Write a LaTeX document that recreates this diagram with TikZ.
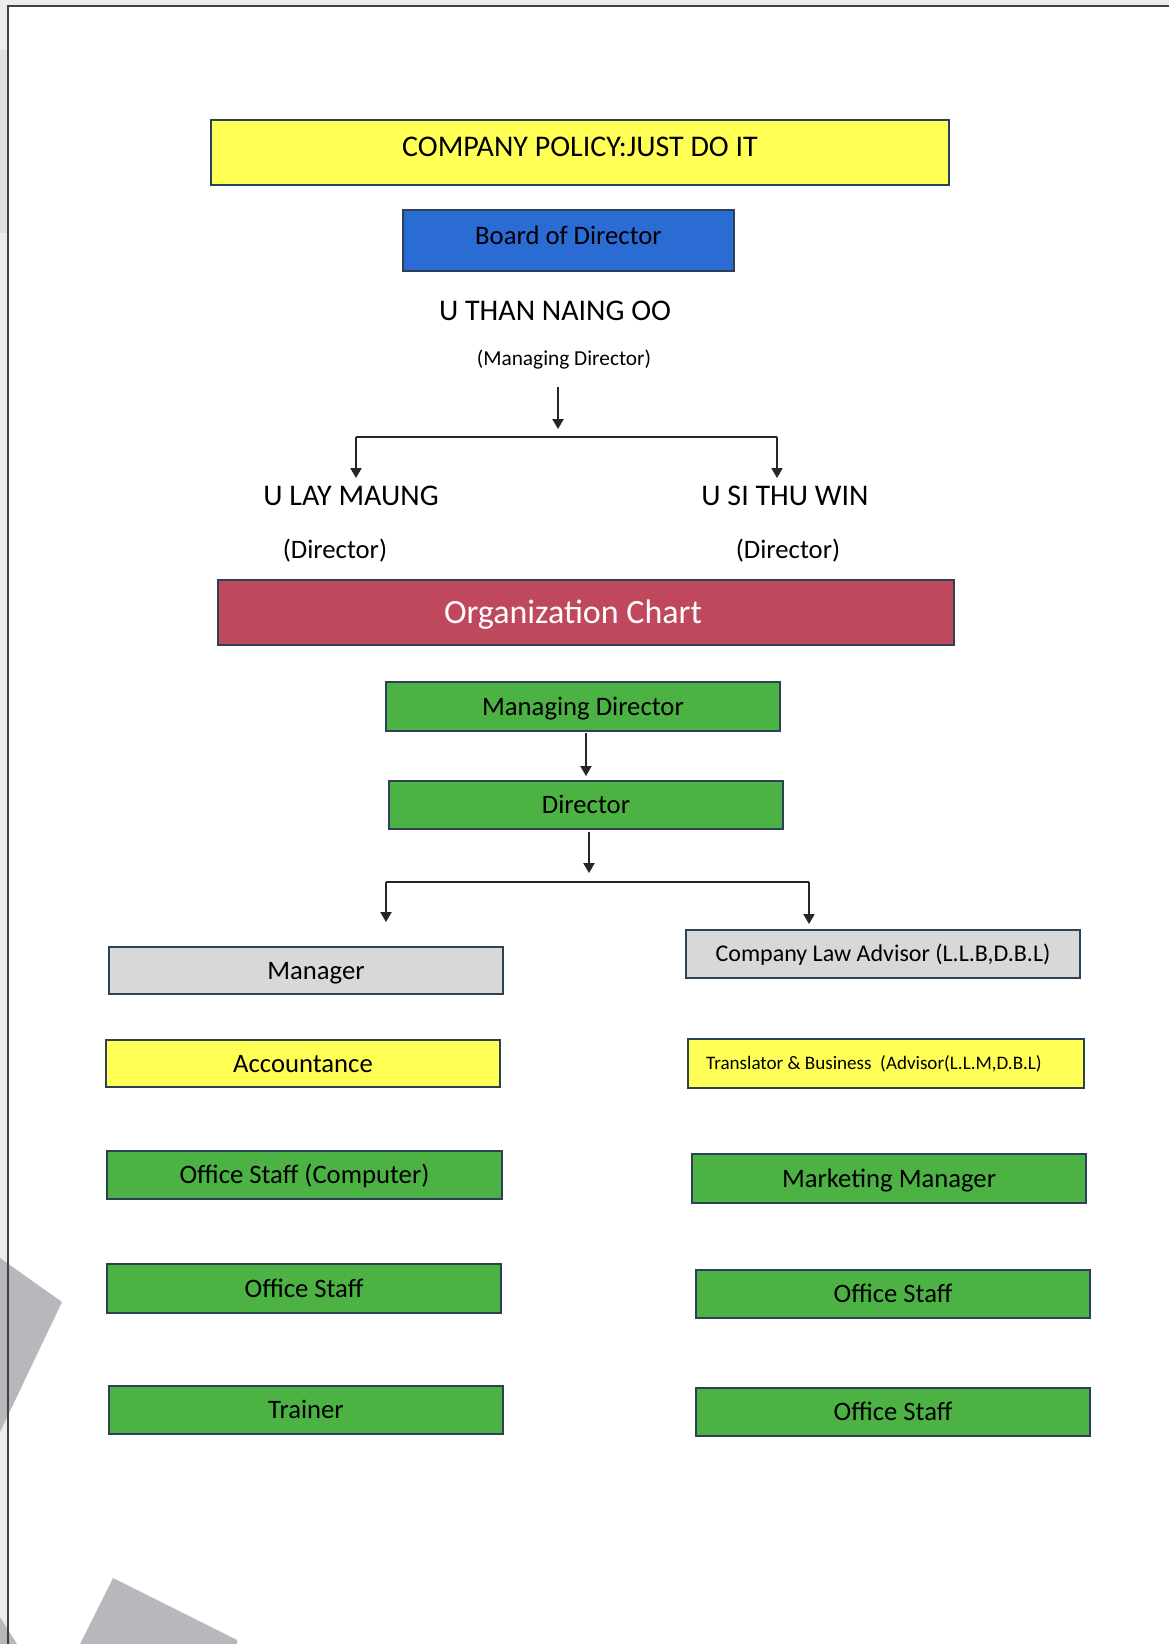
\documentclass[tikz,border=0pt]{standalone}
\usepackage{fontspec}
\setmainfont{Carlito}
\usetikzlibrary{arrows.meta,calc}
\definecolor{pyellow}{RGB}{255,255,85}
\definecolor{pblue}{RGB}{42,108,212}
\definecolor{pred}{RGB}{192,72,92}
\definecolor{pgreen}{RGB}{76,178,68}
\definecolor{pgray}{RGB}{216,216,216}
\definecolor{pline}{RGB}{45,65,85}
\definecolor{bgband}{RGB}{236,236,236}
\definecolor{bgshape}{RGB}{182,184,187}
\begin{document}
\begin{tikzpicture}[x=0.75pt,y=-0.75pt,
  wh/.style 2 args={minimum width=#1*0.75pt, minimum height=#2*0.75pt},
  cbox/.style={draw=pline, line width=1.1pt, rectangle, inner sep=0pt, font=\fontsize{20}{24}\selectfont, text height=16pt, text depth=3.1pt},
  greenbox/.style={cbox, fill=pgreen},
  graybox/.style={cbox, fill=pgray},
  yellowbox/.style={cbox, fill=pyellow},
  bigname/.style={inner sep=0pt, font=\fontsize{22.5}{27}\selectfont},
  rolelabel/.style={inner sep=0pt, font=\fontsize{20}{24}\selectfont},
  conn/.style={draw=black!85, line width=0.8pt},
  arr/.style={conn, -{Triangle[length=7.5pt,width=8.5pt]}}
]
\useasboundingbox (0,0) rectangle (1169,1644);
% background decoration
\fill[white] (0,0) rectangle (1169,1644);
\fill[bgband] (0,0) rectangle (1169,6);
\fill[bgband] (0,0) rectangle (8,1644);
\fill[black!12] (0,50) rectangle (8,233);
\fill[bgshape] (0,1258) -- (62,1302) -- (0,1432) -- cycle;
\fill[bgshape] (113,1578) -- (237,1640) -- (237,1644) -- (80,1644) -- cycle;
\fill[bgshape] (0,1617) -- (17,1644) -- (0,1644) -- cycle;
\draw[black!75, line width=1.4pt] (8,1644) -- (8,6) -- (1169,6);

% top section
\node[yellowbox, wh={738}{65}, font=\fontsize{22.5}{27}\selectfont, text height=19.1pt, text depth=12.9pt] (policy) at (580,152.5) {COMPANY POLICY:JUST DO IT};
\node[cbox, fill=pblue, wh={331}{61}, text height=17pt, text depth=11pt] (board) at (568.5,240.5) {Board of Director};
\node[bigname] (than) at (555,311) {U THAN NAING OO};
\node[inner sep=0pt, font=\fontsize{16}{19}\selectfont] (mdlabel) at (564,360) {(Managing Director)};
\node[bigname] (lay) at (351,496) {U LAY MAUNG};
\node[bigname] (si) at (785,496) {U SI THU WIN};
\node[rolelabel] (dirL) at (335,551) {(Director)};
\node[rolelabel] (dirR) at (788,551) {(Director)};

\coordinate (a1s) at (558,387);
\coordinate (a1e) at (558,429);
\coordinate (hl1) at (356,437);
\coordinate (hr1) at (777,437);
\coordinate (tl1) at (356,478);
\coordinate (tr1) at (777,478);
\draw[arr] (a1s) -- (a1e);
\draw[conn] (hl1) -- (hr1);
\draw[arr] (hl1) -- (tl1);
\draw[arr] (hr1) -- (tr1);

% organization chart
\node[cbox, fill=pred, wh={736}{65}, text=white, font=\fontsize{25.5}{30}\selectfont, text height=20pt, text depth=3.6pt] (org) at (586,612.5) {Organization Chart\hspace*{19.5pt}};
\node[greenbox, wh={394}{49}] (md) at (583,706.5) {Managing Director};
\node[greenbox, wh={394}{48}] (dir) at (586,805) {Director};

\coordinate (a2s) at (586,733);
\coordinate (a2e) at (586,776);
\draw[arr] (a2s) -- (a2e);
\coordinate (a3s) at (589,832);
\coordinate (a3e) at (589,873);
\coordinate (hl2) at (386,882);
\coordinate (hr2) at (809,882);
\coordinate (tl2) at (386,922);
\coordinate (tr2) at (809,924);
\draw[arr] (a3s) -- (a3e);
\draw[conn] (hl2) -- (hr2);
\draw[arr] (hl2) -- (tl2);
\draw[arr] (hr2) -- (tr2);

% left column
\node[graybox, wh={394}{47}] (manager) at (306,970.5) {\hspace*{15pt}Manager};
\node[yellowbox, wh={394}{47}] (acc) at (303,1063.5) {Accountance};
\node[greenbox, wh={395}{48}] (osc) at (304.5,1175) {Office Staff (Computer)};
\node[greenbox, wh={394}{49}] (osl) at (304,1288.5) {Office Staff};
\node[greenbox, wh={394}{48}] (trainer) at (306,1410) {Trainer};

% right column
\node[graybox, wh={394}{48}, font=\fontsize{18}{22}\selectfont, text height=14.5pt, text depth=2.9pt] (law) at (883,954) {Company Law Advisor (L.L.B,D.B.L)};
\node[yellowbox, wh={396}{49}, font=\fontsize{14.3}{17}\selectfont, text height=11.5pt, text depth=2.3pt] (trans) at (886,1063.5) {Translator \& Business\ \ (Advisor(L.L.M,D.B.L)\hspace*{18pt}};
\node[greenbox, wh={394}{49}] (mkt) at (889,1178.5) {Marketing Manager};
\node[greenbox, wh={394}{48}] (osr) at (893,1294) {Office Staff};
\node[greenbox, wh={394}{48}] (osr2) at (893,1412) {Office Staff};
\end{tikzpicture}
\end{document}
